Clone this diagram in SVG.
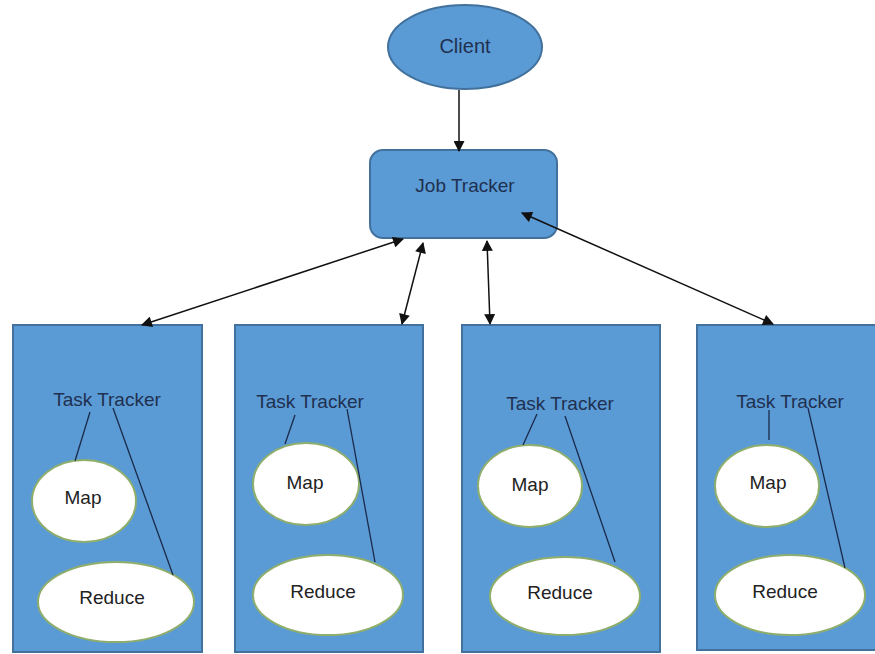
<svg xmlns="http://www.w3.org/2000/svg" width="875" height="654" viewBox="0 0 875 654">
<defs>
<marker id="ah" viewBox="0 0 10 10" refX="9" refY="5" markerWidth="12" markerHeight="11" markerUnits="userSpaceOnUse" orient="auto-start-reverse">
<path d="M0,0 L10,5 L0,10 z" fill="#111"/>
</marker>
<style>
.blue{fill:#5b9bd5;stroke:#41719c;stroke-width:2}
.oval{fill:#ffffff;stroke:#8fae6b;stroke-width:2}
.t{font-family:"Liberation Sans",Arial,sans-serif;font-size:19px;fill:#1f3050;text-anchor:middle}
.w{font-family:"Liberation Sans",Arial,sans-serif;font-size:19px;fill:#222;text-anchor:middle}
.tl{stroke:#1a2a4a;stroke-width:1.3;fill:none}
.c{stroke:#111;stroke-width:1.5;fill:none;marker-end:url(#ah)}
.d{stroke:#111;stroke-width:1.5;fill:none;marker-start:url(#ah);marker-end:url(#ah)}
</style>
</defs>
<rect width="875" height="654" fill="#ffffff"/>
<g id="client">
<ellipse class="blue" cx="465" cy="47" rx="77" ry="42"/>
<text class="t" x="465" y="53" style="font-size:20px">Client</text>
</g>
<g id="jobtracker">
<rect class="blue" x="370" y="150" width="187" height="88" rx="13"/>
<text class="t" x="465" y="192">Job Tracker</text>
</g>
<g id="tt1">
<rect class="blue" x="13" y="325" width="189" height="327"/>
<text class="t" x="107" y="406">Task Tracker</text>
<ellipse class="oval" cx="84" cy="501" rx="52" ry="41"/>
<text class="w" x="83" y="504">Map</text>
<ellipse class="oval" cx="116" cy="602" rx="78" ry="40"/>
<text class="w" x="112" y="604">Reduce</text>
<line class="tl" x1="90" y1="412" x2="75" y2="461"/>
<line class="tl" x1="113" y1="408" x2="173" y2="575"/>
</g>
<g id="tt2">
<rect class="blue" x="235" y="325" width="188" height="327"/>
<text class="t" x="310" y="408">Task Tracker</text>
<ellipse class="oval" cx="306" cy="484" rx="53" ry="41"/>
<text class="w" x="305" y="489">Map</text>
<ellipse class="oval" cx="328" cy="595" rx="75" ry="40"/>
<text class="w" x="323" y="598">Reduce</text>
<line class="tl" x1="295" y1="415" x2="285" y2="444"/>
<line class="tl" x1="347" y1="409" x2="375" y2="562"/>
</g>
<g id="tt3">
<rect class="blue" x="462" y="325" width="198" height="327"/>
<text class="t" x="560" y="410">Task Tracker</text>
<ellipse class="oval" cx="530" cy="486" rx="52" ry="41"/>
<text class="w" x="530" y="491">Map</text>
<ellipse class="oval" cx="565" cy="596" rx="75" ry="39"/>
<text class="w" x="560" y="599">Reduce</text>
<line class="tl" x1="537" y1="414" x2="523" y2="445"/>
<line class="tl" x1="565" y1="416" x2="615" y2="562"/>
</g>
<g id="tt4">
<rect class="blue" x="697" y="325" width="190" height="325"/>
<text class="t" x="790" y="408">Task Tracker</text>
<ellipse class="oval" cx="767" cy="486" rx="52" ry="41"/>
<text class="w" x="768" y="489">Map</text>
<ellipse class="oval" cx="790" cy="595" rx="75" ry="40"/>
<text class="w" x="785" y="598">Reduce</text>
<line class="tl" x1="769" y1="410" x2="769" y2="440"/>
<line class="tl" x1="808" y1="408" x2="845" y2="568"/>
</g>
<g id="connectors">
<line class="c" x1="459" y1="90" x2="459" y2="151"/>
<line class="d" x1="403" y1="239" x2="142" y2="325"/>
<line class="d" x1="423" y1="243" x2="402" y2="324"/>
<line class="d" x1="487" y1="241" x2="490" y2="324"/>
<line class="d" x1="522" y1="213" x2="773" y2="324"/>
</g>
</svg>
